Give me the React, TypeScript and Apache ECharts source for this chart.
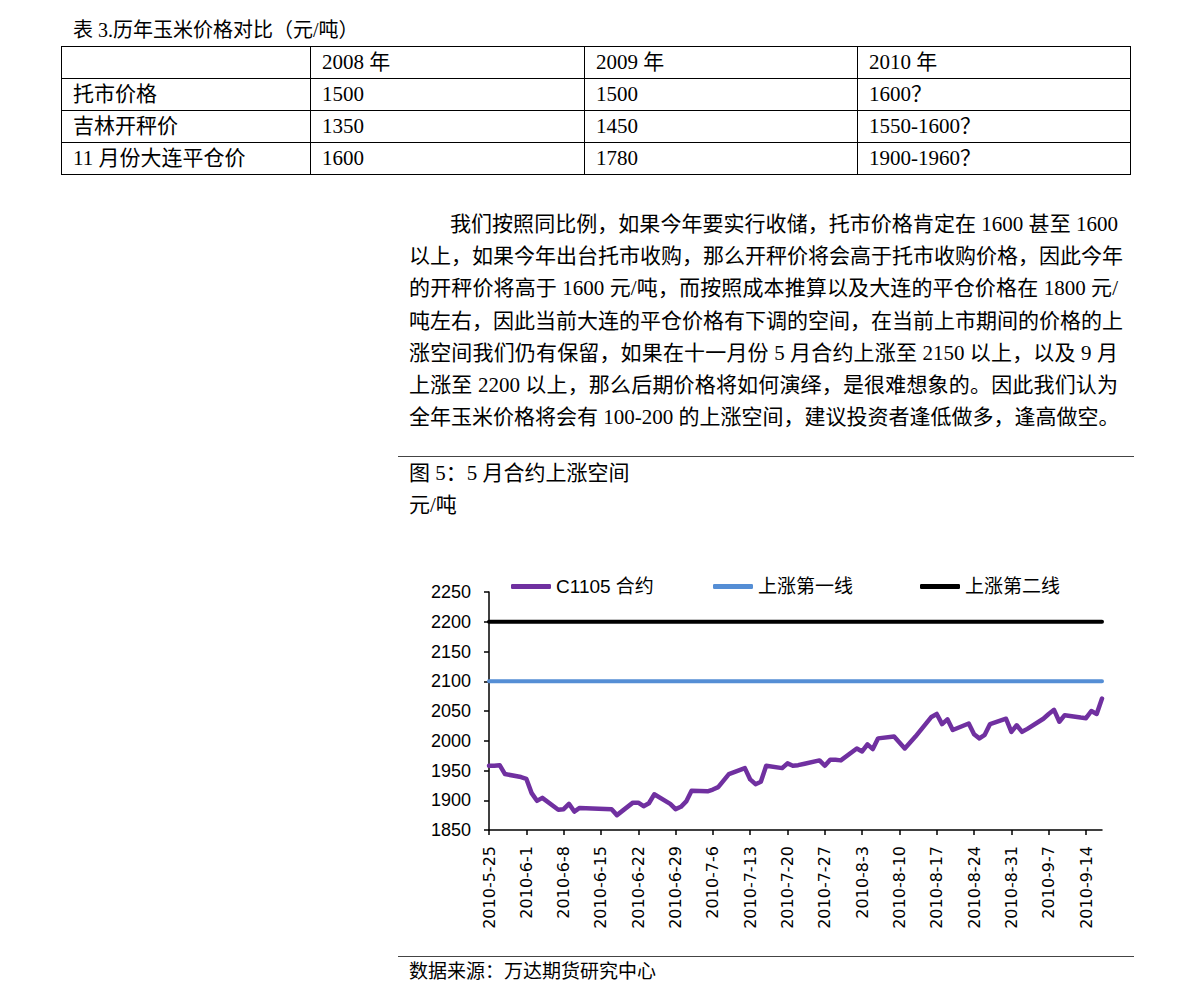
import React, { useEffect, useRef } from "react";
import * as echarts from "echarts";

// ---------- page texts ----------
const tableTitle = "表 3.历年玉米价格对比（元/吨）";
const tableHeaders = ["", "2008 年", "2009 年", "2010 年"];
const tableRowLabels = ["托市价格", "吉林开秤价", "11 月份大连平仓价"];
const price2008 = ["1500", "1350", "1600"];
const price2009 = ["1500", "1450", "1780"];
const price2010 = ["1600？", "1550-1600？", "1900-1960？"];

const paragraphLines = [
  "我们按照同比例，如果今年要实行收储，托市价格肯定在 1600 甚至 1600",
  "以上，如果今年出台托市收购，那么开秤价将会高于托市收购价格，因此今年",
  "的开秤价将高于 1600 元/吨，而按照成本推算以及大连的平仓价格在 1800 元/",
  "吨左右，因此当前大连的平仓价格有下调的空间，在当前上市期间的价格的上",
  "涨空间我们仍有保留，如果在十一月份 5 月合约上涨至 2150 以上，以及 9 月",
  "上涨至 2200 以上，那么后期价格将如何演绎，是很难想象的。因此我们认为",
  "全年玉米价格将会有 100-200 的上涨空间，建议投资者逢低做多，逢高做空。",
];

const chartTitle = "图 5：5 月合约上涨空间";
const chartUnit = "元/吨";
const sourceNote = "数据来源：万达期货研究中心";

// ---------- chart data ----------
const seriesNames = ["C1105 合约", "上涨第一线", "上涨第二线"];

const tradingDates = [
  "2010-5-25", "2010-5-26", "2010-5-27", "2010-5-28",
  "2010-5-31", "2010-6-1", "2010-6-2", "2010-6-3", "2010-6-4",
  "2010-6-7", "2010-6-8", "2010-6-9", "2010-6-10", "2010-6-11",
  "2010-6-17", "2010-6-18",
  "2010-6-21", "2010-6-22", "2010-6-23", "2010-6-24", "2010-6-25",
  "2010-6-28", "2010-6-29", "2010-6-30", "2010-7-1", "2010-7-2",
  "2010-7-5", "2010-7-6", "2010-7-7", "2010-7-8", "2010-7-9",
  "2010-7-12", "2010-7-13", "2010-7-14", "2010-7-15", "2010-7-16",
  "2010-7-19", "2010-7-20", "2010-7-21", "2010-7-22", "2010-7-23",
  "2010-7-26", "2010-7-27", "2010-7-28", "2010-7-29", "2010-7-30",
  "2010-8-2", "2010-8-3", "2010-8-4", "2010-8-5", "2010-8-6",
  "2010-8-9", "2010-8-10", "2010-8-11", "2010-8-12", "2010-8-13",
  "2010-8-16", "2010-8-17", "2010-8-18", "2010-8-19", "2010-8-20",
  "2010-8-23", "2010-8-24", "2010-8-25", "2010-8-26", "2010-8-27",
  "2010-8-30", "2010-8-31", "2010-9-1", "2010-9-2", "2010-9-3",
  "2010-9-6", "2010-9-7", "2010-9-8", "2010-9-9", "2010-9-10",
  "2010-9-13", "2010-9-14", "2010-9-15", "2010-9-16", "2010-9-17",
];

const c1105Prices = [
  1958, 1958, 1959, 1944,
  1939, 1936, 1912, 1899, 1904,
  1884, 1885, 1894, 1881, 1887,
  1885, 1875,
  1896, 1896, 1890, 1895, 1910,
  1894, 1885, 1889, 1898, 1916,
  1915, 1918, 1922, 1933, 1944,
  1954, 1935, 1927, 1931, 1958,
  1954, 1962, 1958, 1959, 1961,
  1967, 1958, 1968, 1968, 1967,
  1987, 1982, 1994, 1986, 2004,
  2007, 1997, 1987, 1997, 2007,
  2040, 2045, 2028, 2036, 2018,
  2029, 2011, 2004, 2010, 2028,
  2037, 2015, 2026, 2015, 2020,
  2037, 2045, 2052, 2032, 2043,
  2039, 2038, 2050, 2045, 2071,
];

const firstLineLevel = 2100;
const secondLineLevel = 2200;

const xTickDates = [
  "2010-5-25", "2010-6-1", "2010-6-8", "2010-6-15", "2010-6-22", "2010-6-29",
  "2010-7-6", "2010-7-13", "2010-7-20", "2010-7-27", "2010-8-3", "2010-8-10",
  "2010-8-17", "2010-8-24", "2010-8-31", "2010-9-7", "2010-9-14",
];
const axisStartDate = "2010-5-25";
const axisEndDate = "2010-9-17";
const yMin = 1850;
const yMax = 2250;
const yStep = 50;

// ---------- helpers ----------
const parseDate = (s: string) => {
  const [y, m, d] = s.split("-").map(Number);
  return Date.UTC(y, m - 1, d);
};
const baseTime = parseDate(axisStartDate);
const dayOffset = (s: string) => Math.round((parseDate(s) - baseTime) / 86400000);
const dayLabel = (v: number) => {
  const t = new Date(baseTime + Math.round(v) * 86400000);
  return `${t.getUTCFullYear()}-${t.getUTCMonth() + 1}-${t.getUTCDate()}`;
};

const serifFont = '"Liberation Serif", "Noto Sans CJK SC", serif';
const sansFont = '"Liberation Sans", "Noto Sans CJK SC", sans-serif';

function Chart() {
  const ref = useRef<HTMLDivElement>(null);
  useEffect(() => {
    if (!ref.current) return;
    const chart = echarts.init(ref.current, null, { renderer: "svg" });
    const xs = tradingDates.map(dayOffset);
    const tickDays = xTickDates.map(dayOffset);
    const legendText = { fontSize: 19, color: "#000", fontFamily: sansFont };
    const colors = ["#7030A0", "#558ED5", "#000000"];
    chart.setOption({
      animation: false,
      color: colors,
      legend: [
        { data: [seriesNames[0]], left: 113, top: 37, padding: 0, icon: "roundRect", itemWidth: 40, itemHeight: 5, itemGap: 0, textStyle: legendText },
        { data: [seriesNames[1]], left: 315, top: 37, padding: 0, icon: "roundRect", itemWidth: 40, itemHeight: 5, itemGap: 0, textStyle: legendText },
        { data: [seriesNames[2]], left: 522, top: 37, padding: 0, icon: "roundRect", itemWidth: 40, itemHeight: 5, itemGap: 0, textStyle: legendText },
      ],
      grid: { left: 91, top: 52, width: 613, height: 238, containLabel: false },
      xAxis: {
        type: "value",
        min: dayOffset(axisStartDate),
        max: dayOffset(axisEndDate),
        splitLine: { show: false },
        axisLine: { show: true, lineStyle: { color: "#000", width: 1.5 } },
        axisTick: { show: true, length: 5, customValues: tickDays, lineStyle: { color: "#000", width: 1.5 } },
        axisLabel: {
          customValues: tickDays,
          rotate: 90,
          margin: 16,
          fontSize: 16,
          fontFamily: '"DejaVu Sans", sans-serif',
          color: "#000",
          formatter: (v: number) => dayLabel(v),
        },
      },
      yAxis: {
        type: "value",
        min: yMin,
        max: yMax,
        interval: yStep,
        splitLine: { show: false },
        axisLine: { show: true, lineStyle: { color: "#000", width: 1.5 } },
        axisTick: { show: true, length: 5, lineStyle: { color: "#000", width: 1.5 } },
        axisLabel: {
          margin: 18,
          fontSize: 18,
          fontFamily: sansFont,
          color: "#000",
          formatter: (v: number) => String(v),
        },
      },
      series: [
        {
          name: seriesNames[0],
          type: "line",
          symbol: "none",
          data: xs.map((x, i) => [x, c1105Prices[i]]),
          lineStyle: { width: 4.5, color: colors[0], cap: "round", join: "round" },
          z: 4,
        },
        {
          name: seriesNames[1],
          type: "line",
          symbol: "none",
          data: xs.map((x) => [x, firstLineLevel]),
          lineStyle: { width: 4, color: colors[1], cap: "round" },
          z: 3,
        },
        {
          name: seriesNames[2],
          type: "line",
          symbol: "none",
          data: xs.map((x) => [x, secondLineLevel]),
          lineStyle: { width: 4, color: colors[2], cap: "round" },
          z: 3,
        },
      ],
    });
    return () => chart.dispose();
  }, []);
  return <div ref={ref} style={{ position: "absolute", left: 398, top: 540, width: 736, height: 415 }} />;
}

export default function App() {
  const colWidths = [249, 274, 273, 273];
  const rows = tableRowLabels.map((label, i) => [label, price2008[i], price2009[i], price2010[i]]);
  const cell = (content: string, w: number, key: number) => (
    <td
      key={key}
      style={{
        width: w,
        border: "1.3px solid #000",
        padding: "0 0 0 11px",
        height: 31,
        fontSize: 21,
        lineHeight: "31px",
        verticalAlign: "middle",
        whiteSpace: "nowrap",
        boxSizing: "border-box",
      }}
    >
      {content}
    </td>
  );
  return (
    <div
      style={{
        position: "absolute",
        left: 0,
        top: 0,
        width: 1191,
        height: 1004,
        background: "#fff",
        overflow: "hidden",
        fontFamily: serifFont,
        color: "#000",
      }}
    >
      <div style={{ position: "absolute", left: 73, top: 17, fontSize: 20, lineHeight: "26px", whiteSpace: "nowrap" }}>
        {tableTitle}
      </div>
      <table
        style={{
          position: "absolute",
          left: 61,
          top: 46,
          width: 1069,
          borderCollapse: "collapse",
          tableLayout: "fixed",
        }}
      >
        <tbody>
          <tr>{tableHeaders.map((h, j) => cell(h, colWidths[j], j))}</tr>
          {rows.map((r, i) => (
            <tr key={i}>{r.map((c, j) => cell(c, colWidths[j], j))}</tr>
          ))}
        </tbody>
      </table>

      {paragraphLines.map((line, i) => (
        <div
          key={i}
          style={{
            position: "absolute",
            left: i === 0 ? 450 : 409,
            top: 208 + i * 32.2,
            width: i === 0 ? 668 : 709,
            height: 32,
            fontSize: 21,
            lineHeight: "32px",
            whiteSpace: "nowrap",
            textAlign: "justify",
            textAlignLast: "justify",
          }}
        >
          {line}
        </div>
      ))}

      <div style={{ position: "absolute", left: 398, top: 456, width: 736, height: 0, borderTop: "1.3px solid #444" }} />
      <div style={{ position: "absolute", left: 409, top: 460, fontSize: 21, lineHeight: "26px", whiteSpace: "nowrap" }}>
        {chartTitle}
      </div>
      <div style={{ position: "absolute", left: 409, top: 492, fontSize: 21, lineHeight: "26px", whiteSpace: "nowrap" }}>
        {chartUnit}
      </div>

      <Chart />

      <div style={{ position: "absolute", left: 398, top: 956, width: 736, height: 0, borderTop: "1.3px solid #444" }} />
      <div style={{ position: "absolute", left: 409, top: 960, fontSize: 19, lineHeight: "24px", whiteSpace: "nowrap" }}>
        {sourceNote}
      </div>
    </div>
  );
}
